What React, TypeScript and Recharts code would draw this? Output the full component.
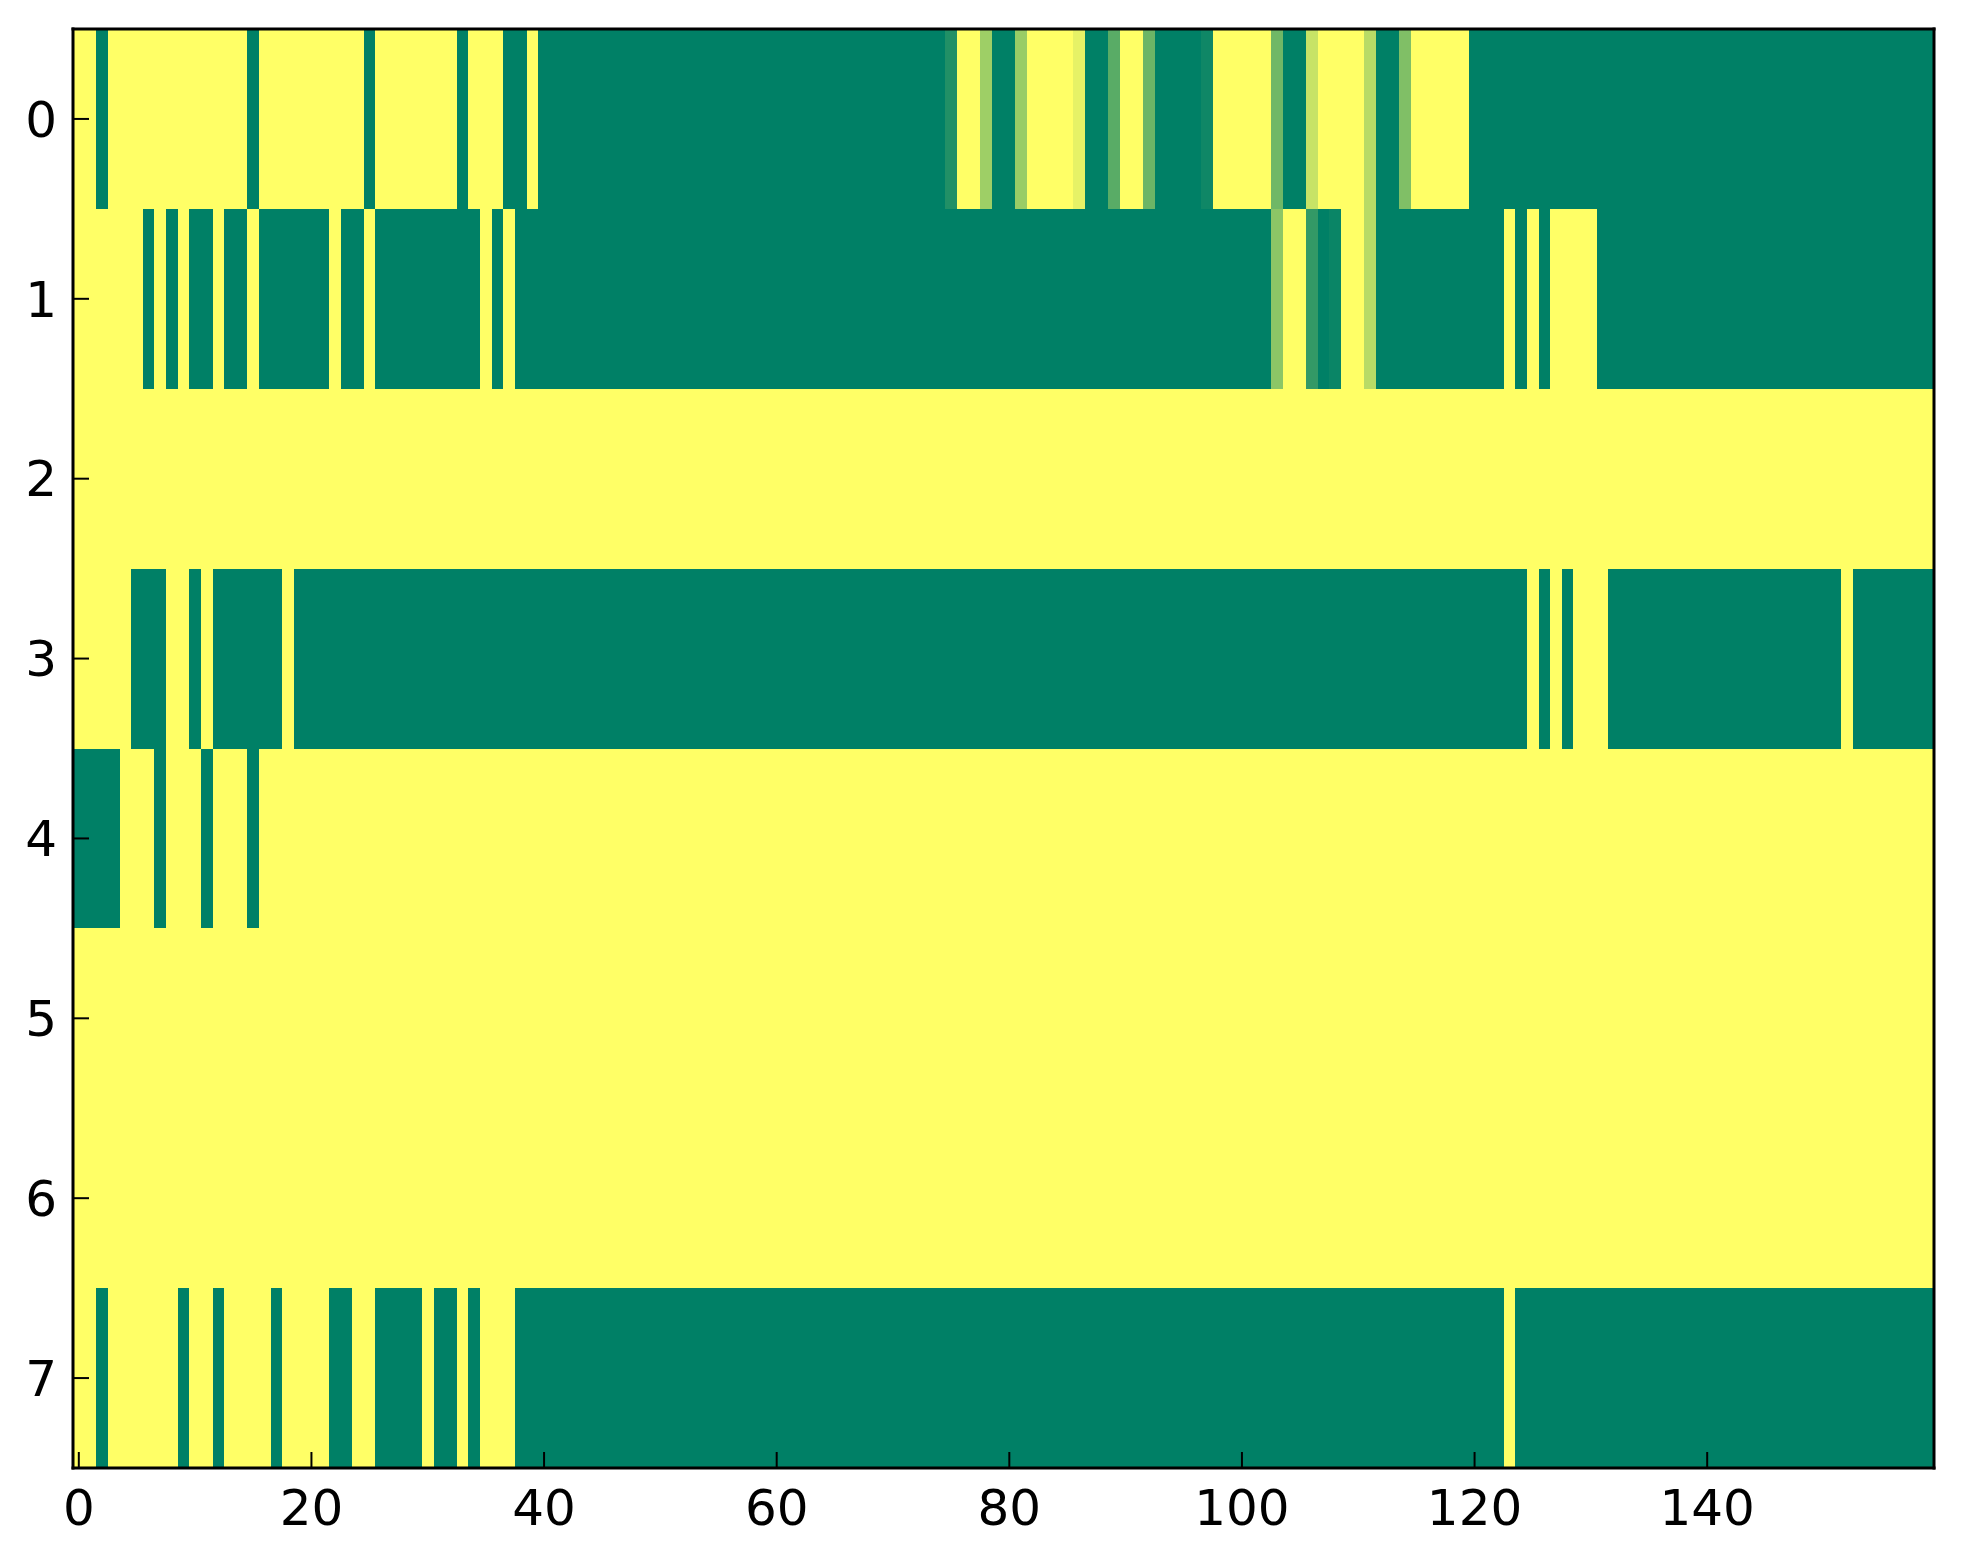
import React from 'react';
import { ScatterChart, Scatter, XAxis, YAxis, ReferenceArea } from 'recharts';

// one value per column (0 = low / green, 1 = high / yellow), 160 columns per row
const row0 = [
  1, 1, 0, 1, 1, 1, 1, 1, 1, 1, 1, 1, 1, 1, 1, 0, 1, 1, 1, 1,
  1, 1, 1, 1, 1, 0, 1, 1, 1, 1, 1, 1, 1, 0, 1, 1, 1, 0, 0, 1,
  0, 0, 0, 0, 0, 0, 0, 0, 0, 0, 0, 0, 0, 0, 0, 0, 0, 0, 0, 0,
  0, 0, 0, 0, 0, 0, 0, 0, 0, 0, 0, 0, 0, 0, 0, 0.13, 1, 1, 0.62, 0,
  0, 0.6, 1, 1, 1, 1, 0.9, 0, 0, 0.35, 1, 1, 0.42, 0, 0, 0, 0, 0.06, 1, 1,
  1, 1, 1, 0.44, 0, 0, 0.78, 1, 1, 1, 1, 0.72, 0, 0, 0.5, 1, 1, 1, 1, 1,
  0, 0, 0, 0, 0, 0, 0, 0, 0, 0, 0, 0, 0, 0, 0, 0, 0, 0, 0, 0,
  0, 0, 0, 0, 0, 0, 0, 0, 0, 0, 0, 0, 0, 0, 0, 0, 0, 0, 0, 0,
];
const row1 = [
  1, 1, 1, 1, 1, 1, 0, 1, 0, 1, 0, 0, 1, 0, 0, 1, 0, 0, 0, 0,
  0, 0, 1, 0, 0, 1, 0, 0, 0, 0, 0, 0, 0, 0, 0, 1, 0, 1, 0, 0,
  0, 0, 0, 0, 0, 0, 0, 0, 0, 0, 0, 0, 0, 0, 0, 0, 0, 0, 0, 0,
  0, 0, 0, 0, 0, 0, 0, 0, 0, 0, 0, 0, 0, 0, 0, 0, 0, 0, 0, 0,
  0, 0, 0, 0, 0, 0, 0, 0, 0, 0, 0, 0, 0, 0, 0, 0, 0, 0, 0, 0,
  0, 0, 0, 0.55, 1, 1, 0.2, 0, 0.04, 1, 1, 0.72, 0, 0, 0, 0, 0, 0, 0, 0,
  0, 0, 0, 1, 0, 1, 0, 1, 1, 1, 1, 0, 0, 0, 0, 0, 0, 0, 0, 0,
  0, 0, 0, 0, 0, 0, 0, 0, 0, 0, 0, 0, 0, 0, 0, 0, 0, 0, 0, 0,
];
const row2 = [
  1, 1, 1, 1, 1, 1, 1, 1, 1, 1, 1, 1, 1, 1, 1, 1, 1, 1, 1, 1,
  1, 1, 1, 1, 1, 1, 1, 1, 1, 1, 1, 1, 1, 1, 1, 1, 1, 1, 1, 1,
  1, 1, 1, 1, 1, 1, 1, 1, 1, 1, 1, 1, 1, 1, 1, 1, 1, 1, 1, 1,
  1, 1, 1, 1, 1, 1, 1, 1, 1, 1, 1, 1, 1, 1, 1, 1, 1, 1, 1, 1,
  1, 1, 1, 1, 1, 1, 1, 1, 1, 1, 1, 1, 1, 1, 1, 1, 1, 1, 1, 1,
  1, 1, 1, 1, 1, 1, 1, 1, 1, 1, 1, 1, 1, 1, 1, 1, 1, 1, 1, 1,
  1, 1, 1, 1, 1, 1, 1, 1, 1, 1, 1, 1, 1, 1, 1, 1, 1, 1, 1, 1,
  1, 1, 1, 1, 1, 1, 1, 1, 1, 1, 1, 1, 1, 1, 1, 1, 1, 1, 1, 1,
];
const row3 = [
  1, 1, 1, 1, 1, 0, 0, 0, 1, 1, 0, 1, 0, 0, 0, 0, 0, 0, 1, 0,
  0, 0, 0, 0, 0, 0, 0, 0, 0, 0, 0, 0, 0, 0, 0, 0, 0, 0, 0, 0,
  0, 0, 0, 0, 0, 0, 0, 0, 0, 0, 0, 0, 0, 0, 0, 0, 0, 0, 0, 0,
  0, 0, 0, 0, 0, 0, 0, 0, 0, 0, 0, 0, 0, 0, 0, 0, 0, 0, 0, 0,
  0, 0, 0, 0, 0, 0, 0, 0, 0, 0, 0, 0, 0, 0, 0, 0, 0, 0, 0, 0,
  0, 0, 0, 0, 0, 0, 0, 0, 0, 0, 0, 0, 0, 0, 0, 0, 0, 0, 0, 0,
  0, 0, 0, 0, 0, 1, 0, 1, 0, 1, 1, 1, 0, 0, 0, 0, 0, 0, 0, 0,
  0, 0, 0, 0, 0, 0, 0, 0, 0, 0, 0, 0, 1, 0, 0, 0, 0, 0, 0, 0,
];
const row4 = [
  0, 0, 0, 0, 1, 1, 1, 0, 1, 1, 1, 0, 1, 1, 1, 0, 1, 1, 1, 1,
  1, 1, 1, 1, 1, 1, 1, 1, 1, 1, 1, 1, 1, 1, 1, 1, 1, 1, 1, 1,
  1, 1, 1, 1, 1, 1, 1, 1, 1, 1, 1, 1, 1, 1, 1, 1, 1, 1, 1, 1,
  1, 1, 1, 1, 1, 1, 1, 1, 1, 1, 1, 1, 1, 1, 1, 1, 1, 1, 1, 1,
  1, 1, 1, 1, 1, 1, 1, 1, 1, 1, 1, 1, 1, 1, 1, 1, 1, 1, 1, 1,
  1, 1, 1, 1, 1, 1, 1, 1, 1, 1, 1, 1, 1, 1, 1, 1, 1, 1, 1, 1,
  1, 1, 1, 1, 1, 1, 1, 1, 1, 1, 1, 1, 1, 1, 1, 1, 1, 1, 1, 1,
  1, 1, 1, 1, 1, 1, 1, 1, 1, 1, 1, 1, 1, 1, 1, 1, 1, 1, 1, 1,
];
const row5 = [...row2];
const row6 = [...row2];
const row7 = [
  1, 1, 0, 1, 1, 1, 1, 1, 1, 0, 1, 1, 0, 1, 1, 1, 1, 0, 1, 1,
  1, 1, 0, 0, 1, 1, 0, 0, 0, 0, 1, 0, 0, 1, 0, 1, 1, 1, 0, 0,
  0, 0, 0, 0, 0, 0, 0, 0, 0, 0, 0, 0, 0, 0, 0, 0, 0, 0, 0, 0,
  0, 0, 0, 0, 0, 0, 0, 0, 0, 0, 0, 0, 0, 0, 0, 0, 0, 0, 0, 0,
  0, 0, 0, 0, 0, 0, 0, 0, 0, 0, 0, 0, 0, 0, 0, 0, 0, 0, 0, 0,
  0, 0, 0, 0, 0, 0, 0, 0, 0, 0, 0, 0, 0, 0, 0, 0, 0, 0, 0, 0,
  0, 0, 0, 1, 0, 0, 0, 0, 0, 0, 0, 0, 0, 0, 0, 0, 0, 0, 0, 0,
  0, 0, 0, 0, 0, 0, 0, 0, 0, 0, 0, 0, 0, 0, 0, 0, 0, 0, 0, 0,
];

const rows = [row0, row1, row2, row3, row4, row5, row6, row7];
const rowTicks = [0, 1, 2, 3, 4, 5, 6, 7];
const colTicks = [0, 20, 40, 60, 80, 100, 120, 140];

// matplotlib "summer": r = v, g = 0.5 + 0.5v, b = 0.4
const summer = (v: number) =>
  `rgb(${Math.round(255 * v)}, ${Math.round(255 * (0.5 + 0.5 * v))}, 102)`;

// merge neighbouring equal cells so there are fewer rects (and no seams)
const runs = rows.flatMap((row, r) => {
  const out: { c0: number; c1: number; r: number; v: number }[] = [];
  row.forEach((v, c) => {
    const last = out[out.length - 1];
    if (last && last.v === v && last.c1 === c - 1) last.c1 = c;
    else out.push({ c0: c, c1: c, r, v });
  });
  return out;
});

// cell centres, one per cell, so the axes have data to work from
const cells = rows.flatMap((row, r) => row.map((v, c) => ({ x: c, y: r, v })));

const font = { fill: '#000', fontSize: 50, fontFamily: 'DejaVu Sans' };
const tickLine = { stroke: '#000', strokeWidth: 2 };
const spine = { stroke: '#000', strokeWidth: 3, strokeLinecap: 'square' as const };

const cellShape = (fill: string) => (p: any) => (
  <rect x={p.x} y={p.y} width={p.width} height={p.height} fill={fill} shapeRendering="crispEdges" />
);

export default function App() {
  return (
    <div style={{ width: 1950, height: 1550 }}>
      <ScatterChart width={1950} height={1550} margin={{ top: 20, right: 23, bottom: 10, left: 5 }}>
        <Scatter
          data={cells}
          xAxisId="b"
          yAxisId="l"
          isAnimationActive={false}
          shape={() => <g />}
        />
        <Scatter
          data={cells}
          xAxisId="t"
          yAxisId="r"
          isAnimationActive={false}
          shape={() => <g />}
        />
        {runs.map((run, i) => (
          <ReferenceArea
            key={i}
            xAxisId="b"
            yAxisId="l"
            x1={run.c0 - 0.5}
            x2={run.c1 + 0.5}
            y1={run.r - 0.5}
            y2={run.r + 0.5}
            shape={cellShape(summer(run.v))}
          />
        ))}
        <XAxis
          xAxisId="b"
          type="number"
          dataKey="x"
          orientation="bottom"
          domain={[-0.5, 159.5]}
          allowDataOverflow
          ticks={colTicks}
          interval={0}
          height={80}
          axisLine={spine}
          tickSize={-16}
          tickMargin={37}
          tickLine={tickLine}
          tick={font}
        />
        <XAxis
          xAxisId="t"
          type="number"
          dataKey="x"
          orientation="top"
          domain={[-0.5, 159.5]}
          allowDataOverflow
          ticks={colTicks}
          interval={0}
          height={1}
          axisLine={spine}
          tickSize={-16}
          tickLine={tickLine}
          tick={false}
        />
        <YAxis
          yAxisId="l"
          type="number"
          dataKey="y"
          orientation="left"
          domain={[-0.5, 7.5]}
          allowDataOverflow
          reversed
          ticks={rowTicks}
          interval={0}
          width={60}
          axisLine={spine}
          tickSize={-16}
          tickMargin={32}
          tickLine={tickLine}
          tick={font}
        />
        <YAxis
          yAxisId="r"
          type="number"
          dataKey="y"
          orientation="right"
          domain={[-0.5, 7.5]}
          allowDataOverflow
          reversed
          ticks={rowTicks}
          interval={0}
          width={1}
          axisLine={spine}
          tickSize={-16}
          tickLine={tickLine}
          tick={false}
        />
      </ScatterChart>
    </div>
  );
}
